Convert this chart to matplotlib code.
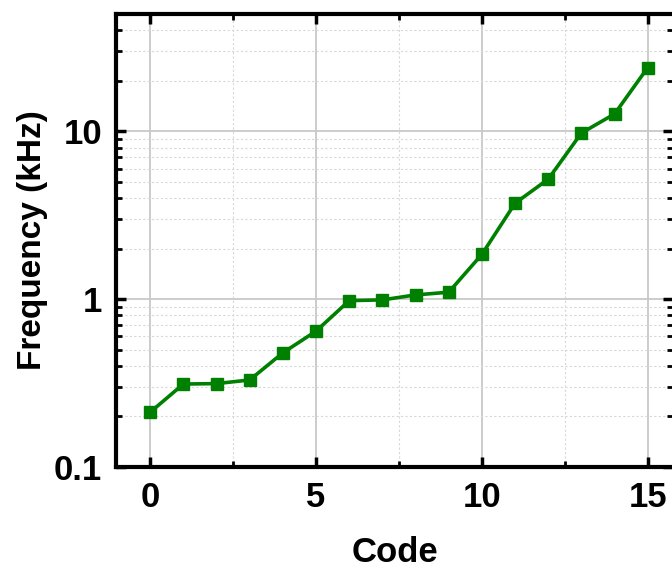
import matplotlib
matplotlib.use("Agg")
import matplotlib.pyplot as plt
from matplotlib.ticker import LogLocator, FixedLocator, NullFormatter, FixedFormatter

codes = list(range(16))
freq_khz = [0.212, 0.312, 0.314, 0.33, 0.479, 0.645, 0.98, 0.99, 1.06, 1.10,
            1.85, 3.73, 5.19, 9.77, 12.7, 24.0]
x_ticks = [0, 5, 10, 15]
y_ticks = [0.1, 1, 10]
y_ticklabels = ["0.1", "1", "10"]

plt.rcParams['font.family'] = ['Liberation Sans Narrow', 'Liberation Sans', 'DejaVu Sans']
plt.rcParams['font.weight'] = 'bold'

fig = plt.figure(figsize=(6.72, 5.73), dpi=100)
ax = fig.add_axes([116/672, 1-467/573, 1.0 - 116/672 + 0.002, (467-14)/573])

ax.plot(codes, freq_khz, color='#008000', lw=2.6, marker='s', ms=8.5, zorder=3)

ax.set_yscale('log')
ax.set_xlim(-1.03, 15.77)
ax.set_ylim(0.1, 50)

ax.xaxis.set_major_locator(FixedLocator(x_ticks))
ax.xaxis.set_minor_locator(FixedLocator([2.5, 7.5, 12.5]))
ax.yaxis.set_major_locator(FixedLocator(y_ticks))
ax.yaxis.set_major_formatter(FixedFormatter(y_ticklabels))
ax.yaxis.set_minor_locator(LogLocator(base=10, subs=range(2, 10)))
ax.yaxis.set_minor_formatter(NullFormatter())

ax.grid(which='major', color='#c8c8c8', lw=1.3, ls='-', zorder=0)
ax.grid(which='minor', color='#d8d8d8', lw=0.8, ls=(0, (2, 2)), zorder=0)
ax.set_axisbelow(True)

for s in ax.spines.values():
    s.set_linewidth(3.0)
ax.tick_params(which='major', direction='in', length=7, width=2.5, top=True, right=True,
               labelsize=25, pad=10)
ax.tick_params(which='minor', direction='in', length=4, width=2.0, top=True, right=True)
for lab in ax.get_xticklabels() + ax.get_yticklabels():
    lab.set_fontweight('bold')

ax.set_xlabel('Code', fontsize=25, fontweight='bold', labelpad=16)
ax.set_ylabel('Frequency (kHz)', fontsize=24, fontweight='bold', labelpad=4)

fig.savefig('out.png', dpi=100)
